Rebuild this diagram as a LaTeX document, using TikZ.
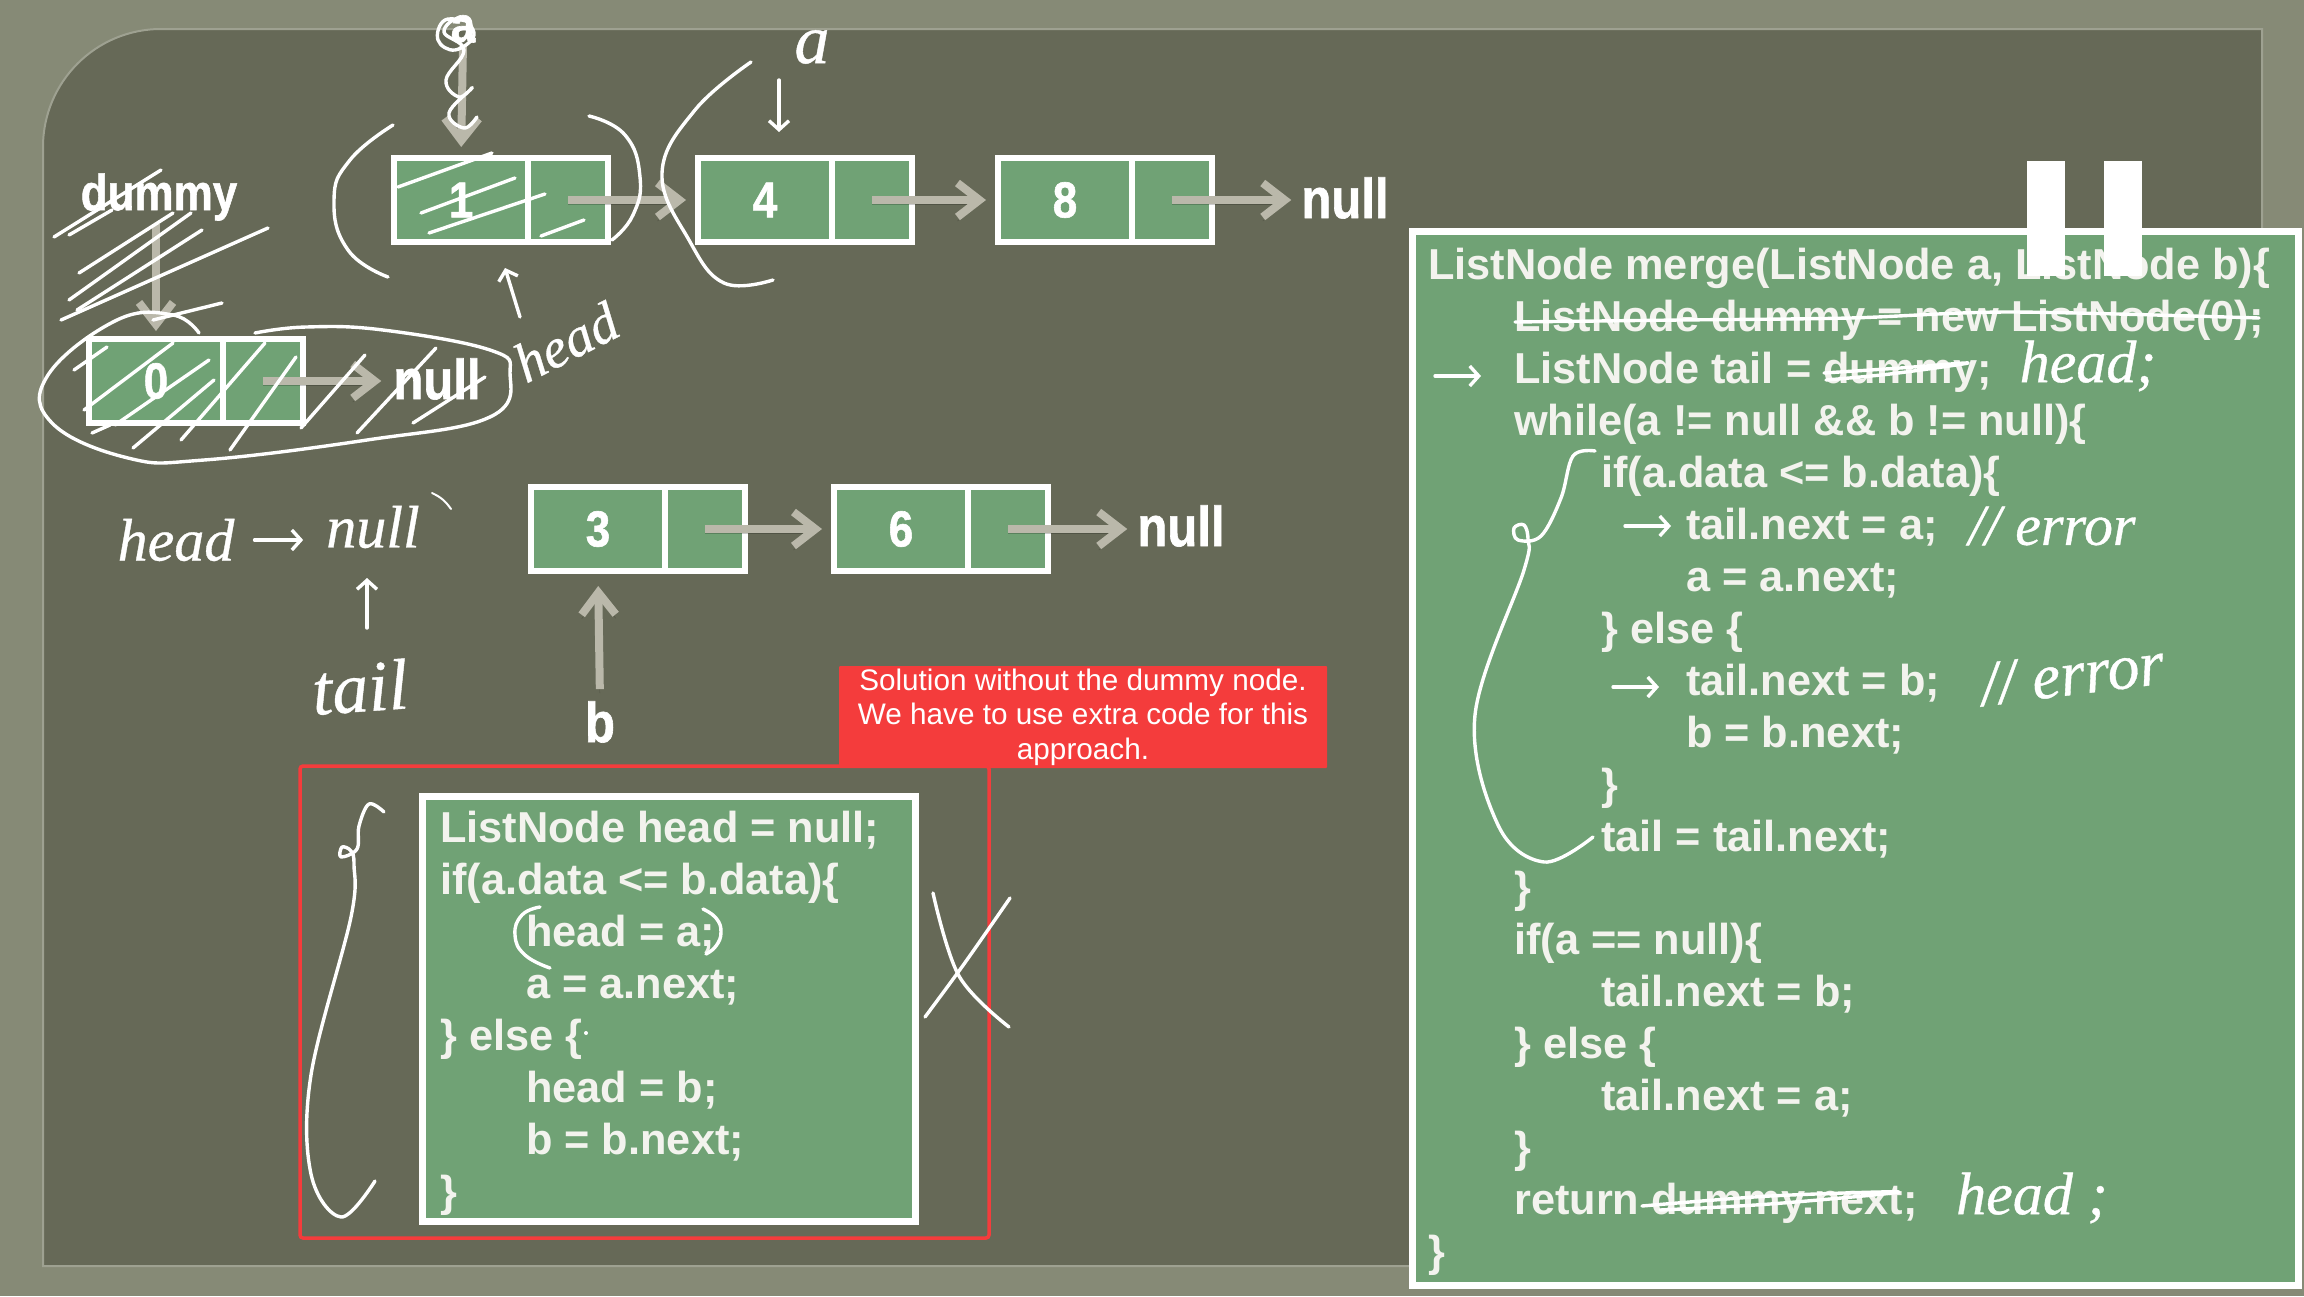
\documentclass[tikz,border=0pt]{standalone}
\usepackage{fontspec}
\setmainfont{Liberation Sans}
\newfontfamily\labelfont[BoldFeatures={FakeBold=1.2}]{Liberation Sans}
\newfontfamily\handfont[ItalicFeatures={FakeBold=0.6}]{Liberation Serif}
\usetikzlibrary{
  arrows.meta,
  positioning,  % Function "of" (e.g. [right=of x])
  shadows,      % Style "drop shadow"
}
\newcommand{\tall}[1]{\scalebox{1}[1.15]{#1}}
\def\myindone{86pt}
\def\myindtwo{173pt}
\def\myindthree{258pt}
\definecolor{mygreen}{HTML}{70A275}
\definecolor{mypanel}{HTML}{666957}
\definecolor{myouter}{HTML}{868A76}
\definecolor{mylink}{HTML}{BAB8AA}
\definecolor{myred}{HTML}{F43C3C}
\definecolor{mytext}{HTML}{F3F3EE}
\tikzset{
  my cell/.style={
    draw=white,
    fill=mygreen,
    line width=6pt,
    minimum width=134pt,
    minimum height=84pt,
    inner sep=0pt,
    outer sep=0pt,
    text=white,
    font=\labelfont\fontsize{44}{50}\selectfont\bfseries
  },
  my ptr/.style={
    my cell,
    minimum width=80pt
  },
  my label/.style={
    inner sep=0pt,
    text=white,
    font=\labelfont\fontsize{44}{50}\selectfont\bfseries
  },
  my null/.style={
    my label,
    font=\labelfont\fontsize{49}{56}\selectfont\bfseries
  },
  my link/.style={
    draw=mylink,
    line width=8pt,
    -{Straight Barb[length=22pt,width=34pt]},
    preaction={draw=black,opacity=.2,transform canvas={yshift=-4pt}}
  },
  my code box/.style={
    draw=white,
    fill=mygreen,
    line width=7pt,
    inner sep=0pt,
    drop shadow={shadow xshift=2pt,shadow yshift=-4pt,opacity=.35}
  },
  my code/.style={
    anchor=north west,
    align=left,
    inner sep=0pt,
    text=mytext,
    font=\fontsize{43.3}{51.95}\selectfont\bfseries
  },
  my hand/.style={
    inner sep=0pt,
    text=white,
    font=\handfont\itshape\fontsize{60}{66}\selectfont
  },
  my pen/.style={
    draw=white,
    line width=3.4pt,
    line cap=round,
    line join=round
  },
  my pen arrow/.style={
    my pen,
    -{Straight Barb[length=9pt,width=20pt]}
  }
}
\begin{document}
\begin{tikzpicture}[x=1pt,y=-1pt]
\useasboundingbox (0,0) rectangle (2304,1296);
\fill[myouter] (0,0) rectangle (2304,1296);
\draw[fill=mypanel,draw=myouter!80!white,line width=2pt]
  (43,1266) -- (43,147) arc[start angle=180,end angle=270,radius=118] -- (2262,29) -- (2262,1266) -- cycle;

% upper list
\node[my cell] (n1) at (461,200) {\tall{1}};
\node[my ptr,right=0pt of n1] (n1p) {};
\node[my cell] (n4) at (765,200) {\tall{4}};
\node[my ptr,right=0pt of n4] (n4p) {};
\node[my cell] (n8) at (1065,200) {\tall{8}};
\node[my ptr,right=0pt of n8] (n8p) {};
\node[my null] (null8) at (1345,198) {\tall{null}};
\draw[my link,shorten >=12pt] (n1p.center) -- (n4.west);
\draw[my link,shorten >=12pt] (n4p.center) -- (n8.west);
\draw[my link,shorten >=10pt] (n8p.center) -- (n8p.center -| null8.west);

% dummy list
\node[my cell] (n0) at (156,381) {\tall{0}};
\node[my ptr,right=0pt of n0] (n0p) {};
\node[my null] (null0) at (437,379) {\tall{null}};
\draw[my link,shorten >=12pt] (n0p.center) -- (n0p.center -| null0.west);

% lower list
\node[my cell] (n3) at (598,529) {\tall{3}};
\node[my ptr,right=0pt of n3] (n3p) {};
\node[my cell] (n6) at (901,529) {\tall{6}};
\node[my ptr,right=0pt of n6] (n6p) {};
\node[my null] (null6) at (1181,526) {\tall{null}};
\draw[my link,shorten >=12pt] (n3p.center) -- (n6.west);
\draw[my link,shorten >=10pt] (n6p.center) -- (n6p.center -| null6.west);

% pointers
\node[my label] (ptra) at (463,29) {\tall{a}};
\node[my label] (dummy) at (159,197) {\tall{dummy}};
\node[my null] (ptrb) at (600,722) {\tall{b}};
\draw[my link,preaction={draw=none},shorten <=3pt,shorten >=11pt] (ptra.south) -- (n1.north);
\draw[my link,preaction={draw=none},shorten <=3pt,shorten >=8pt] (dummy.south -| n0.north) -- (n0.north);
\draw[my link,preaction={draw=none},shorten <=12pt,shorten >=15pt] (ptrb.north) -- (n3.south);

% solution without dummy
\draw[myred,line width=3.5pt,rounded corners=3pt] (300,766) rectangle (989,1238);
\node[my code box,minimum width=493pt,minimum height=425pt] (smallbox) at (668.5,1008.5) {};
\node[my code] (smallcode) at (440,811) {%
ListNode head = null;\\
if(a.data <= b.data)\{\\
\hspace*{\myindone}head = a;\\
\hspace*{\myindone}a = a.next;\\
\} else \{\\
\hspace*{\myindone}head = b;\\
\hspace*{\myindone}b = b.next;\\
\}};
\node[fill=myred,minimum width=488pt,minimum height=102pt,inner sep=0pt,rounded corners=1pt,
  align=center,text=white,font=\fontsize{29.7}{34.5}\selectfont] (note) at (1083,717)
  {Solution without the dummy node.\\We have to use extra code for this\\approach.};

% merge code
\node[my code box,minimum width=886pt,minimum height=1054pt] (mergebox) at (1855,758) {};
\node[my code] (mergecode) at (1428,248) {%
ListNode merge(ListNode a, ListNode b)\{\\
\hspace*{\myindone}ListNode dummy = new ListNode(0);\\
\hspace*{\myindone}ListNode tail = dummy;\\
\hspace*{\myindone}while(a != null \&\& b != null)\{\\
\hspace*{\myindtwo}if(a.data <= b.data)\{\\
\hspace*{\myindthree}tail.next = a;\\
\hspace*{\myindthree}a = a.next;\\
\hspace*{\myindtwo}\} else \{\\
\hspace*{\myindthree}tail.next = b;\\
\hspace*{\myindthree}b = b.next;\\
\hspace*{\myindtwo}\}\\
\hspace*{\myindtwo}tail = tail.next;\\
\hspace*{\myindone}\}\\
\hspace*{\myindone}if(a == null)\{\\
\hspace*{\myindtwo}tail.next = b;\\
\hspace*{\myindone}\} else \{\\
\hspace*{\myindtwo}tail.next = a;\\
\hspace*{\myindone}\}\\
\hspace*{\myindone}return dummy.next;\\
\}};
\fill[white] (2027,161) rectangle (2065,276);
\fill[white] (2104,161) rectangle (2142,276);

% handwriting: words
\node[my hand,rotate=27,font=\handfont\itshape\fontsize{56}{60}\selectfont] (heada) at (566,342) {head};
\node[my hand,font=\handfont\itshape\fontsize{70}{74}\selectfont] (scripta) at (812,47) {a};
\node[my hand] (headb) at (176,540) {head};
\node[my hand] (nullb) at (373,527) {null};
\node[my hand,font=\handfont\itshape\fontsize{72}{76}\selectfont,rotate=4] (taila) at (360,687) {tail};
\node[my hand] (headc) at (2088,366) {head;};
\node[my hand,font=\handfont\itshape\fontsize{58}{62}\selectfont] (errora) at (2052,526) {// error};
\node[my hand,font=\handfont\itshape\fontsize{64}{68}\selectfont,rotate=7] (errorb) at (2072,674) {// error};
\node[my hand] (headd) at (2032,1198) {head ;};

% handwriting: arrows
\coordinate (headfoot) at (520,317);
\coordinate (headtip) at (505,268);
\coordinate (tailfoot) at (367,628);
\coordinate (tailtip) at (367,578);
\coordinate (scriptfoot) at (779,80);
\coordinate (scripttip) at (779,132);
\draw[my pen arrow] (headfoot) -- (headtip);
\draw[my pen arrow] (tailfoot) -- (tailtip);
\draw[my pen arrow] (scriptfoot) -- (scripttip);
\draw[my pen arrow,shorten <=20pt,shorten >=23pt] (headb.east) -- (headb.east -| nullb.west);
\foreach \xa/\xb/\ya in {1435/1481/376,1625/1671/526,1613/1659/687}
  \draw[my pen arrow] (\xa,\ya) -- (\xb,\ya);

% handwriting: brackets
\draw[my pen] plot[smooth,tension=.8] coordinates {(393,125) (350,160) (334,200) (348,250) (388,277)};
\draw[my pen] plot[smooth,tension=.8] coordinates {(589,116) (625,135) (640,177) (633,215) (612,240)};
\draw[my pen] plot[smooth,tension=.7] coordinates {(751,62) (695,110) (662,173) (689,240) (724,283) (773,280)};
\draw[my pen] plot[smooth,tension=.7] coordinates {(199,333) (173,315) (117,320) (48,375) (52,423) (128,458) (204,460) (367,440) (490,417) (510,373) (490,350) (383,330) (306,327) (255,333)};
\draw[my pen] plot[smooth,tension=.6] coordinates {(1595,451) (1573,456) (1561,498) (1541,536) (1518,540) (1514,528) (1524,525) (1528,540) (1524,570) (1475,715) (1498,825) (1544,862) (1593,837)};
\draw[my pen] plot[smooth,tension=.6] coordinates {(384,812) (369,804) (359,826) (357,849) (341,857) (342,847) (351,851) (354,865) (351,917) (311,1075) (311,1174) (341,1217) (375,1181)};
\draw[my pen] plot[smooth,tension=.8] coordinates {(540,907) (522,915) (515,935) (525,955) (550,968)};
\draw[my pen] plot[smooth,tension=.8] coordinates {(703,909) (716,918) (721,932) (716,946) (706,954)};
\fill[white] (586,1033) circle[radius=2];
\draw[my pen,line width=2pt] (432,493) to[bend left=15] (451,509);

% handwriting: cross
\draw[my pen] plot[smooth,tension=.6] coordinates {(933,893) (959,976) (1009,1027)};
\draw[my pen] plot[smooth,tension=.6] coordinates {(1010,898) (964,964) (925,1017)};

% handwriting: scribble on a
\draw[my pen] plot[smooth,tension=.7] coordinates {(470,22) (445,20) (438,40) (455,50) (474,35) (460,18) (444,32) (464,50) (446,80) (459,97) (472,88) (449,113) (464,128) (477,117)};

% handwriting: hatching
\foreach \xa/\ya/\xb/\yb in {
  54/237/161/170, 69/235/112/210, 79/273/173/213, 77/310/202/230, 61/320/268/228, 69/300/191/213, 153/320/222/303,
  74/370/107/347, 84/410/173/343, 115/425/209/360, 92/433/110/425, 133/448/214/380, 181/440/265/343, 230/450/296/357,
  301/428/365/355, 357/433/436/348, 413/423/485/377,
  398/187/492/153, 421/213/515/178, 429/233/545/194, 541/236/584/220}
  \draw[my pen] (\xa,\ya) -- (\xb,\yb);

% handwriting: strike-throughs
\draw[my pen] plot[smooth,tension=.5] coordinates {(1515,322) (1680,320) (1850,318) (2010,312) (2259,318)};
\draw[my pen] plot[smooth,tension=.5] coordinates {(1824,373) (1900,368) (1968,363) (1890,374) (1826,380)};
\draw[my pen] plot[smooth,tension=.5] coordinates {(1642,1206) (1770,1196) (1899,1192) (1770,1204) (1660,1210)};
\end{tikzpicture}
\end{document}
